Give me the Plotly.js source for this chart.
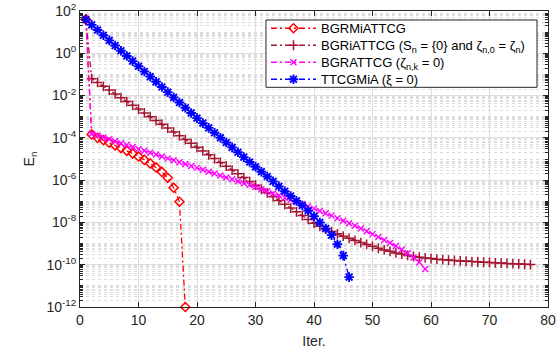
<!DOCTYPE html>
<html>
<head>
<meta charset="utf-8">
<script src="https://cdn.plot.ly/plotly-3.0.1.min.js"></script>
<style>
  html, body { margin: 0; padding: 0; background: #fff; }
  #chart { width: 559px; height: 349px; }
</style>
</head>
<body>
<div id="chart"></div>
<script>
// Error E_n per iteration for the four solvers (iteration n = 1, 2, ...)
const errBGRMiATTCG = [
  40, 1.45e-4, 1.0e-4, 7.8e-5, 5.9e-5, 4.4e-5, 3.3e-5, 2.45e-5, 1.8e-5, 1.32e-5,
  9.1e-6, 6.2e-6, 4.0e-6, 2.45e-6, 1.29e-6, 4.4e-7, 9.5e-8, 1e-12
];

const errBGRiATTCG = [
  39.8, 6.3e-2, 4.17e-2, 2.75e-2, 1.82e-2, 1.2e-2, 7.9e-3, 5.2e-3, 3.47e-3, 2.29e-3,
  1.51e-3, 1.0e-3, 6.6e-4, 4.4e-4, 2.9e-4, 1.9e-4, 1.26e-4, 8.3e-5, 5.5e-5, 3.6e-5,
  2.4e-5, 1.58e-5, 1.05e-5, 6.9e-6, 4.6e-6, 3.0e-6, 2.0e-6, 1.32e-6, 8.7e-7, 5.75e-7,
  3.8e-7, 2.5e-7, 1.66e-7, 1.1e-7, 7.2e-8, 4.8e-8, 3.16e-8, 2.1e-8, 1.38e-8, 9.1e-9,
  6.6e-9, 4.9e-9, 3.7e-9, 2.9e-9, 2.25e-9, 1.78e-9, 1.41e-9, 1.12e-9, 9.1e-10, 7.4e-10,
  6.0e-10, 5.0e-10, 4.3e-10, 3.6e-10, 3.2e-10, 2.75e-10, 2.45e-10, 2.25e-10, 2.1e-10, 1.95e-10,
  1.82e-10, 1.74e-10, 1.66e-10, 1.58e-10, 1.51e-10, 1.48e-10, 1.41e-10, 1.38e-10, 1.32e-10, 1.29e-10,
  1.23e-10, 1.2e-10, 1.15e-10, 1.12e-10, 1.1e-10, 1.05e-10, 1.02e-10
];

const errBGRATTCG = [
  39.8, 1.58e-4, 1.29e-4, 1.05e-4, 8.5e-5, 6.9e-5, 5.6e-5, 4.6e-5, 3.7e-5, 3.0e-5,
  2.45e-5, 2.0e-5, 1.62e-5, 1.32e-5, 1.07e-5, 8.7e-6, 7.1e-6, 5.75e-6, 4.7e-6, 3.8e-6,
  3.1e-6, 2.5e-6, 2.05e-6, 1.66e-6, 1.35e-6, 1.1e-6, 8.9e-7, 7.2e-7, 5.9e-7, 4.7e-7,
  3.7e-7, 2.95e-7, 2.35e-7, 1.86e-7, 1.48e-7, 1.17e-7, 9.3e-8, 7.4e-8, 5.75e-8, 4.5e-8,
  3.5e-8, 2.7e-8, 2.1e-8, 1.58e-8, 1.2e-8, 9.1e-9, 6.9e-9, 5.1e-9, 3.8e-9, 2.8e-9,
  2.05e-9, 1.48e-9, 1.07e-9, 7.6e-10, 5.2e-10, 3.5e-10, 2.2e-10, 1.32e-10, 6.3e-11
];

const errTTCGMiA = [
  38.9, 22.1, 12.6, 7.16, 4.07, 2.32, 1.32, 0.75, 0.427, 0.243,
  0.138, 0.0785, 0.0447, 0.0254, 0.0145, 0.00822, 0.00468, 0.00266, 0.00151, 8.6e-4,
  5.0e-4, 2.95e-4, 1.74e-4, 1.02e-4, 6.0e-5, 3.55e-5, 2.09e-5, 1.23e-5, 7.2e-6, 4.27e-6,
  2.51e-6, 1.48e-6, 8.7e-7, 5.1e-7, 3.0e-7, 1.78e-7, 1.05e-7, 6.3e-8, 3.55e-8, 1.95e-8,
  1.0e-8, 5.1e-9, 2.5e-9, 9.3e-10, 2.7e-10, 2.6e-11
];

const seriesNames = [
  'BGRMiATTCG',
  'BGRiATTCG (S<sub>n</sub> = {0} and ζ<sub>n,0</sub> = ζ<sub>n</sub>)',
  'BGRATTCG (ζ<sub>n,k</sub> = 0)',
  'TTCGMiA (ξ = 0)'
];

const xTickVals = [0, 10, 20, 30, 40, 50, 60, 70, 80];
const yTickVals = [1e-12, 1e-10, 1e-8, 1e-6, 1e-4, 1e-2, 1e0, 1e2];
const yTickText = ['10<sup>-12</sup>', '10<sup>-10</sup>', '10<sup>-8</sup>', '10<sup>-6</sup>',
                   '10<sup>-4</sup>', '10<sup>-2</sup>', '10<sup>0</sup>', '10<sup>2</sup>'];

const iters = arr => arr.map((_, i) => i + 1);
const dashDot = '6px,3px,2px,3px';
const axisColor = '#262626';

const traces = [
  {
    x: iters(errBGRMiATTCG), y: errBGRMiATTCG, name: seriesNames[0], legend: 'legend',
    mode: 'lines+markers', cliponaxis: false,
    line: { color: '#ff0000', width: 1.3, dash: dashDot },
    marker: { symbol: 'diamond-open', size: 7, color: '#ff0000', line: { width: 1.5, color: '#ff0000' } }
  },
  {
    x: iters(errBGRiATTCG), y: errBGRiATTCG, name: seriesNames[1], legend: 'legend2',
    mode: 'lines+markers',
    line: { color: '#a2142f', width: 1.3, dash: dashDot },
    marker: { symbol: 'cross-thin-open', size: 7, color: '#a2142f', line: { width: 1.5, color: '#a2142f' } }
  },
  {
    x: iters(errBGRATTCG), y: errBGRATTCG, name: seriesNames[2], legend: 'legend3',
    mode: 'lines+markers',
    line: { color: '#ff00ff', width: 1.3, dash: dashDot },
    marker: { symbol: 'x-thin-open', size: 6, color: '#ff00ff', line: { width: 1.4, color: '#ff00ff' } }
  },
  {
    x: iters(errTTCGMiA), y: errTTCGMiA, name: seriesNames[3], legend: 'legend4',
    mode: 'lines+markers',
    line: { color: '#0000ff', width: 1.3, dash: dashDot },
    marker: { symbol: 'asterisk-open', size: 8, color: '#0000ff', line: { width: 1.9, color: '#0000ff' } }
  }
];

// one legend row per series, stacked inside a shared framed box
const legendRow = y => ({
  x: 0.3974, y: y, xanchor: 'left', yanchor: 'middle',
  bgcolor: 'rgba(0,0,0,0)', borderwidth: 0,
  font: { size: 13, color: '#000000' },
  itemwidth: 45
});

const layout = {
  width: 559, height: 349,
  margin: { l: 80, r: 11, t: 11, b: 42 },
  paper_bgcolor: '#ffffff', plot_bgcolor: '#ffffff',
  font: { family: '"Liberation Sans", Arial, sans-serif', size: 14, color: axisColor },
  showlegend: true,
  legend: legendRow(0.9416),
  legend2: legendRow(0.8841),
  legend3: legendRow(0.8267),
  legend4: legendRow(0.7693),
  shapes: [{
    type: 'rect', xref: 'paper', yref: 'paper', layer: 'above',
    x0: 0.3974, x1: 0.9765, y0: 0.7422, y1: 0.9696,
    line: { color: axisColor, width: 1 }, fillcolor: '#ffffff'
  }],
  xaxis: {
    range: [0, 80], tickmode: 'array', tickvals: xTickVals,
    ticks: 'inside', ticklen: 5, tickcolor: axisColor,
    showline: true, linecolor: axisColor, linewidth: 1, mirror: 'allticks',
    showgrid: true, gridcolor: '#dedede', gridwidth: 1, zeroline: false,
    tickfont: { size: 14, color: axisColor },
    title: { text: 'Iter.', font: { size: 14, color: axisColor }, standoff: 9 }
  },
  yaxis: {
    type: 'log', range: [-12, 2], tickmode: 'array', tickvals: yTickVals, ticktext: yTickText,
    ticks: 'inside', ticklen: 5, tickcolor: axisColor,
    showline: true, linecolor: axisColor, linewidth: 1, mirror: 'allticks',
    showgrid: true, gridcolor: '#dedede', gridwidth: 1, zeroline: false,
    tickfont: { size: 14, color: axisColor },
    minor: {
      dtick: 'D1', ticks: 'inside', ticklen: 3, tickcolor: axisColor,
      showgrid: true, gridcolor: '#d4d4d4', griddash: 'dot', gridwidth: 0.8
    },
    title: { text: 'E<sub>n</sub>', font: { size: 14, color: axisColor }, standoff: 8 }
  }
};

Plotly.newPlot('chart', traces, layout, { displayModeBar: false, staticPlot: true });
</script>
</body>
</html>
